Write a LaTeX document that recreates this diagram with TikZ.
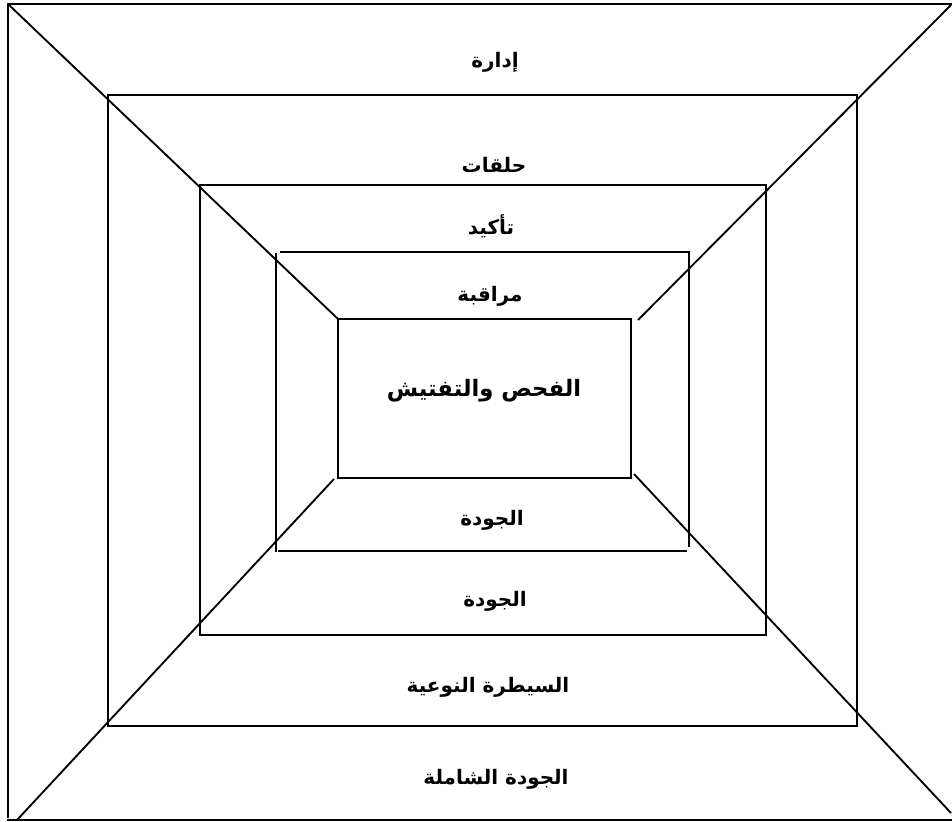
\documentclass[tikz,border=0pt]{standalone}
\usepackage{fontspec}
\TeXXeTstate=1
\newfontfamily\arabicfont[Script=Arabic]{DejaVu Sans}
\tikzset{
  frame/.style={line width=1.4pt, line cap=rect},
  lbl/.style={font=\arabicfont\bfseries\fontsize{15}{18}\selectfont, inner sep=0pt},
  biglbl/.style={font=\arabicfont\bfseries\fontsize{17}{21}\selectfont, inner sep=0pt}
}
\begin{document}
\begin{tikzpicture}[x=0.75pt,y=-0.75pt]
\useasboundingbox (0,0) rectangle (952,821);
% outer frame
\coordinate (o1) at (8,4);
\coordinate (o2) at (952,4);
\coordinate (o3) at (952,820);
\coordinate (o4) at (8,820);
\draw[frame] (8,817) -- (o1) -- (o2);
\draw[frame] (o4) -- (o3);
% second rectangle
\draw[frame] (108,95) rectangle (857,726);
% third rectangle
\draw[frame] (200,185) rectangle (766,635);
% fourth rectangle (separate sides)
\draw[frame] (276,254) -- (276,551);
\draw[frame] (281,252) -- (689,252) -- (689,546);
\draw[frame] (279,551) -- (686,551);
% inner rectangle
\draw[frame] (338,319) rectangle (631,478);
% inner corner coordinates
\coordinate (i1) at (338,319);
\coordinate (i2) at (638,320);
\coordinate (i3) at (634,474);
\coordinate (i4) at (334,479);
\coordinate (d2) at (951,5);
\coordinate (d3) at (951,813);
\coordinate (d4) at (17,820);
% diagonals
\draw[frame, line cap=butt] (o1) -- (i1);
\draw[frame, line cap=butt] (d2) -- (i2);
\draw[frame, line cap=butt] (i3) -- (d3);
\draw[frame, line cap=butt] (d4) -- (i4);
% labels
\node[lbl] (t1) at (495,62) {\beginR إدارة\endR};
\node[lbl] (t2) at (494,165) {\beginR حلقات\endR};
\node[lbl] (t3) at (491,226) {\beginR تأكيد\endR};
\node[lbl] (t4) at (490,296) {\beginR مراقبة\endR};
\node[biglbl] (t5) at (484,391) {\beginR الفحص والتفتيش\endR};
\node[lbl] (t6) at (492,520) {\beginR الجودة\endR};
\node[lbl] (t7) at (495,601) {\beginR الجودة\endR};
\node[lbl] (t8) at (488,687) {\beginR السيطرة النوعية\endR};
\node[lbl] (t9) at (496,779) {\beginR الجودة الشاملة\endR};
\end{tikzpicture}
\end{document}
